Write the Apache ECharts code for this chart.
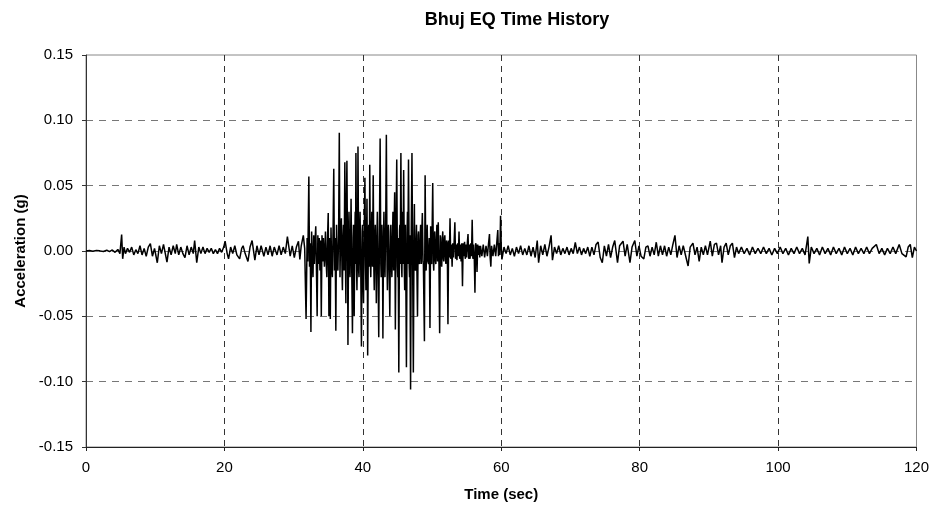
<!DOCTYPE html>
<html>
<head>
<meta charset="utf-8">
<script src="https://cdn.jsdelivr.net/npm/echarts@6/dist/echarts.min.js"></script>
<style>
  html, body { margin: 0; padding: 0; background: #fff; }
  #main { width: 932px; height: 511px; }
</style>
</head>
<body>
<div id="main"></div>
<script>
// time (sec), acceleration (g)
var quietStart = [[0,0],[0.5,0.0003],[1.0,-0.0002],[1.5,0.0004],[2.0,0.0001],[2.5,-0.0004],[3.0,0.0006],[3.4,-0.0005],[3.8,0.0008],[4.2,-0.001],[4.6,0.0012],[4.9,-0.002],[5.15,0.0126],[5.3,-0.006],[5.5,0.003]];

var preEvent = [[5.7,-0.002],[6.0,0.002],[6.3,-0.001],[6.6,0.003],[6.9,-0.003],[7.2,0.001],[7.5,-0.002],[7.8,0.004],[8.1,-0.003],[8.4,0.002],[8.7,-0.004],[9.0,0.003],[9.3,0.0057],[9.6,-0.004],[9.9,0.002],[10.3,-0.009],[10.6,0.004],[10.9,-0.002],[11.2,0.005],[11.7,-0.0085],[12.0,0.003],[12.3,-0.003],[12.6,0.004],[12.9,-0.002],[13.1,0.005],[13.4,-0.003],[13.7,0.003],[14.0,-0.002],[14.3,-0.005],[14.6,0.004],[14.9,-0.003],[15.2,0.003],[15.5,-0.002],[15.7,0.008],[16.0,-0.009],[16.3,0.003],[16.6,-0.002],[16.9,0.003],[17.2,-0.002],[17.5,0.002],[17.8,-0.001],[18.1,0.002],[18.4,-0.002],[18.7,0.001],[19.0,-0.002],[19.3,0.002],[19.6,-0.001],[19.9,0.003],[20.1,0.0075],[20.4,-0.002],[20.6,-0.006],[20.9,0.003],[21.2,-0.002],[21.5,0.004],[21.8,-0.003],[22.2,-0.006],[22.5,0.002],[22.7,0.004],[23.0,-0.002],[23.4,-0.008],[23.7,0.003],[24.0,0.008],[24.4,-0.007],[24.7,0.004],[25.0,-0.003],[25.3,0.004],[25.7,-0.004],[26.0,0.003],[26.3,-0.003],[26.6,0.004],[26.9,-0.004],[27.2,0.003],[27.6,-0.003],[27.9,0.004],[28.2,-0.003],[28.5,0.003],[28.8,-0.002],[29.1,0.011],[29.5,-0.004],[29.8,0.004],[30.1,-0.005],[30.4,0.003],[30.7,0.0075],[30.9,-0.0065],[31.1,0.004],[31.4,0.012]];

var strongMotion = [[31.6,0.002],[31.8,-0.052],[31.95,0.01],[32.05,-0.008],[32.2,0.057],[32.3,-0.012],[32.4,0.006],[32.5,-0.062],[32.6,0.015],[32.7,-0.006],[32.8,-0.02],[32.9,0.012],[33.0,-0.01],[33.1,0.008],[33.2,0.019],[33.3,-0.015],[33.4,-0.05],[33.5,0.012],[33.6,-0.01],[33.7,0.01],[33.8,-0.015],[33.9,0.008],[34.0,-0.05],[34.1,0.012],[34.2,-0.008],[34.3,0.01],[34.45,-0.012],[34.6,0.015],[34.7,-0.008],[34.8,-0.02],[34.9,0.01],[35.0,0.029],[35.1,-0.05],[35.2,0.01],[35.3,-0.052],[35.4,0.018],[35.5,-0.012],[35.6,-0.02],[35.7,0.015],[35.8,0.063],[35.9,-0.015],[36.0,0.01],[36.1,-0.061],[36.2,0.02],[36.3,-0.008],[36.4,-0.015],[36.5,0.012],[36.6,0.0905],[36.7,-0.02],[36.8,0.015],[36.9,0.025],[37.0,-0.018],[37.05,-0.03],[37.15,0.012],[37.2,0.02],[37.3,-0.015],[37.4,0.068],[37.5,-0.012],[37.55,-0.04],[37.6,0.02],[37.7,0.069],[37.8,-0.01],[37.85,-0.072],[37.95,0.015],[38.0,0.03],[38.1,-0.012],[38.15,-0.02],[38.25,0.015],[38.3,0.04],[38.4,-0.015],[38.5,-0.063],[38.6,0.01],[38.65,0.02],[38.7,-0.012],[38.75,-0.05],[38.85,0.015],[38.9,0.03],[38.95,-0.01],[39.0,0.075],[39.1,-0.015],[39.15,-0.03],[39.25,0.012],[39.3,0.08],[39.4,-0.015],[39.45,-0.02],[39.55,0.018],[39.6,0.03],[39.7,-0.012],[39.8,-0.073],[39.9,0.015],[39.95,0.02],[40.0,-0.015],[40.1,-0.04],[40.2,0.012],[40.3,0.056],[40.4,-0.012],[40.45,-0.03],[40.55,0.015],[40.6,0.04],[40.65,-0.01],[40.7,-0.08],[40.8,0.012],[40.85,0.02],[40.95,-0.012],[41.0,0.066],[41.1,-0.01],[41.15,-0.02],[41.25,0.015],[41.3,0.03],[41.4,-0.012],[41.5,0.058],[41.6,-0.015],[41.65,-0.03],[41.75,0.012],[41.8,0.02],[41.9,-0.012],[41.95,-0.04],[42.05,0.015],[42.1,0.03],[42.2,-0.012],[42.3,-0.066],[42.4,0.015],[42.5,0.086],[42.6,-0.01],[42.65,-0.02],[42.7,0.012],[42.75,0.02],[42.85,-0.012],[42.9,-0.067],[43.0,0.015],[43.05,0.03],[43.15,-0.01],[43.2,-0.02],[43.3,0.015],[43.4,0.089],[43.5,-0.012],[43.55,-0.03],[43.65,0.012],[43.7,0.02],[43.8,-0.012],[43.9,-0.05],[44.0,0.015],[44.05,0.02],[44.15,-0.012],[44.2,-0.02],[44.3,0.012],[44.35,0.03],[44.45,-0.015],[44.5,0.01],[44.6,0.045],[44.7,-0.06],[44.8,0.015],[44.9,0.07],[45.0,-0.012],[45.05,-0.02],[45.1,0.01],[45.2,-0.093],[45.3,0.015],[45.35,0.02],[45.4,-0.01],[45.5,0.075],[45.6,-0.012],[45.65,-0.02],[45.7,0.015],[45.75,0.03],[45.8,-0.01],[45.9,0.062],[46.0,-0.015],[46.05,-0.03],[46.1,0.012],[46.15,0.02],[46.2,-0.01],[46.3,-0.089],[46.4,0.015],[46.45,0.03],[46.5,-0.01],[46.6,0.07],[46.7,-0.012],[46.75,-0.02],[46.8,0.012],[46.9,-0.106],[47.0,0.015],[47.1,0.075],[47.2,-0.012],[47.3,-0.093],[47.4,0.012],[47.45,0.036],[47.5,-0.008],[47.6,-0.015],[47.7,0.01],[47.75,0.02],[47.8,-0.008],[47.9,-0.05],[48.0,0.012],[48.05,0.015],[48.1,-0.008],[48.2,-0.01],[48.3,0.012],[48.35,0.02],[48.45,-0.01],[48.5,0.01],[48.6,0.029],[48.7,-0.008],[48.75,-0.01],[48.9,-0.069],[49.0,0.058],[49.1,-0.008],[49.15,-0.015],[49.25,0.01],[49.3,0.02],[49.4,-0.008],[49.5,-0.01],[49.6,0.01],[49.7,-0.059],[49.8,0.019],[49.9,-0.008],[49.95,-0.01],[50.0,0.01],[50.1,0.052],[50.2,-0.01],[50.25,-0.015],[50.35,0.012],[50.4,0.015],[50.5,-0.008],[50.55,-0.01],[50.65,0.01],[50.7,0.02],[50.8,-0.008],[50.9,0.022],[51.0,-0.01],[51.1,-0.063],[51.2,0.012],[51.25,0.01],[51.35,-0.008],[51.4,-0.012],[51.5,0.01],[51.55,0.015],[51.65,-0.006],[51.7,-0.008],[51.8,0.01],[51.85,0.012],[51.95,-0.006],[52.0,-0.01],[52.1,0.008],[52.2,0.006],[52.3,-0.056],[52.4,0.008],[52.5,-0.005],[52.6,0.025],[52.7,-0.006],[52.8,0.005],[52.9,-0.012],[53.0,0.006],[53.1,-0.005],[53.2,0.008],[53.3,0.022],[53.4,-0.006],[53.5,0.005],[53.6,-0.007],[53.7,0.006],[53.8,-0.004],[53.9,0.015],[54.0,-0.006],[54.1,0.005],[54.2,-0.008],[54.3,0.006],[54.4,-0.027],[54.5,0.006],[54.6,-0.004],[54.7,0.007],[54.8,-0.006],[54.9,0.005],[55.0,-0.005],[55.1,0.006],[55.2,0.013],[55.3,-0.006],[55.4,0.005],[55.5,-0.006],[55.6,0.006],[55.7,-0.004],[55.8,0.024],[55.9,-0.006],[56.0,0.005],[56.1,-0.004],[56.2,-0.032],[56.3,0.006],[56.4,0.004],[56.5,-0.016],[56.6,0.005],[56.7,-0.003],[56.8,0.004],[56.9,-0.005],[57.0,0.004],[57.2,-0.004],[57.4,0.005],[57.6,-0.005],[57.8,0.004],[58.0,-0.004],[58.15,0.005],[58.3,0.013],[58.4,-0.005],[58.5,-0.012],[58.6,0.004],[58.8,-0.004],[59.0,0.005],[59.2,-0.004],[59.35,0.006],[59.5,0.016],[59.6,-0.004],[59.7,0.006],[59.8,-0.003],[59.9,0.027],[60.0,0.004]];

var coda = [[60.1,-0.0065],[60.4,0.003],[60.7,-0.002],[61.0,0.004],[61.3,-0.003],[61.6,0.002],[61.9,-0.004],[62.2,0.003],[62.5,-0.002],[62.8,0.004],[63.1,-0.003],[63.4,0.002],[63.7,-0.003],[64.0,0.004],[64.3,-0.004],[64.6,0.003],[64.9,-0.005],[65.2,0.008],[65.4,-0.009],[65.7,0.004],[66.0,-0.003],[66.3,0.005],[66.6,-0.004],[66.9,0.003],[67.2,0.012],[67.4,-0.007],[67.7,0.003],[68.0,-0.002],[68.3,0.004],[68.6,-0.003],[68.9,0.002],[69.2,-0.002],[69.5,0.003],[69.8,-0.003],[70.1,0.002],[70.4,-0.002],[70.7,0.0065],[71.0,-0.002],[71.3,0.003],[71.6,-0.003],[71.9,0.002],[72.2,-0.002],[72.5,0.003],[72.8,-0.004],[73.1,0.003],[73.4,-0.003],[73.7,0.005],[74.0,0.0068],[74.3,-0.005],[74.6,-0.009],[74.9,0.004],[75.2,-0.004],[75.5,0.005],[75.8,-0.005],[76.1,0.003],[76.4,0.008],[76.8,-0.009],[77.1,0.004],[77.6,0.0075],[77.9,-0.004],[78.2,0.005],[78.6,-0.009],[78.9,0.003],[79.3,0.008],[79.6,-0.004],[79.9,0.004],[80.2,-0.004],[80.6,-0.006],[80.9,0.003],[81.2,0.004],[81.5,-0.004],[81.8,0.003],[82.1,-0.003],[82.4,0.0067],[82.7,-0.004],[83.0,0.004],[83.3,-0.003],[83.6,0.004],[83.9,-0.004],[84.2,0.003],[84.5,-0.003],[84.8,0.005],[85.1,0.012],[85.4,-0.005],[85.7,0.004],[86.0,-0.003],[86.3,0.004],[86.7,-0.005],[87.0,-0.0115],[87.3,0.003],[87.7,0.006],[88.0,-0.003],[88.3,0.003],[88.6,-0.008],[88.9,0.003],[89.2,-0.003],[89.5,0.004],[89.8,-0.003],[90.2,0.0075],[90.5,-0.004],[90.8,0.005],[91.1,0.006],[91.4,-0.003],[91.7,0.004],[91.9,-0.009],[92.2,0.003],[92.5,0.006],[92.8,-0.003],[93.1,0.004],[93.4,0.006],[93.7,-0.005],[94.0,0.003],[94.3,-0.002],[94.7,0.003],[95.1,-0.002],[95.5,0.002],[95.9,-0.003],[96.3,0.003],[96.7,-0.002],[97.1,0.002],[97.5,-0.002],[97.9,0.003],[98.3,-0.002],[98.7,0.002],[99.1,-0.003],[99.5,0.002],[99.9,-0.002],[100.3,0.003],[100.7,-0.002],[101.1,0.002],[101.5,-0.003],[101.9,0.002],[102.3,-0.002],[102.7,0.003],[103.1,-0.002],[103.5,0.002],[103.9,-0.003],[104.3,0.011],[104.5,-0.0095],[104.8,0.003],[105.2,-0.002],[105.6,0.002],[106.0,-0.003],[106.4,0.003],[106.8,-0.002],[107.2,0.002],[107.6,-0.003],[108.0,0.003],[108.4,-0.002],[108.8,0.002],[109.2,-0.003],[109.6,0.003],[110.0,-0.002],[110.4,0.002],[110.8,-0.003],[111.2,0.003],[111.6,-0.002],[112.0,0.002],[112.4,-0.002],[112.8,0.003],[113.2,-0.002],[113.6,0.002],[114.2,0.005],[114.6,-0.002],[115.0,0.002],[115.4,-0.003],[115.8,0.002],[116.2,-0.002],[116.6,0.003],[117.0,-0.002],[117.5,0.005],[117.9,-0.002],[118.5,-0.0045],[118.8,0.003],[119.1,0.005],[119.4,-0.005],[119.7,0.003],[120.0,0.0]];

var timeTicks = { min: 0, max: 120, step: 20 };
var accelTicks = { min: -0.15, max: 0.15, step: 0.05 };

var quakeRecord = quietStart.concat(preEvent, strongMotion, coda);

var myChart = echarts.init(document.getElementById("main"));
myChart.setOption({
  animation: false,
  title: {
    text: "Bhuj EQ Time History",
    left: 512,
    textAlign: "center",
    top: 6,
    textStyle: { fontFamily: "Liberation Sans", fontSize: 18, fontWeight: "bold", color: "#000" }
  },
  grid: {
    left: 86, right: 15, top: 55, bottom: 64,
    show: true, borderColor: "#888", borderWidth: 1
  },
  xAxis: {
    type: "value",
    min: timeTicks.min, max: timeTicks.max, interval: timeTicks.step,
    name: "Time (sec)",
    nameLocation: "middle",
    nameGap: 40,
    nameTextStyle: { fontFamily: "Liberation Sans", fontSize: 15, fontWeight: "bold", color: "#000" },
    axisLine: { onZero: false, lineStyle: { color: "#222", width: 1 } },
    axisTick: { inside: false, length: 4, lineStyle: { color: "#222" } },
    axisLabel: { margin: 13, fontFamily: "Liberation Sans", fontSize: 15, color: "#000" },
    splitLine: {
      show: true, showMinLine: false, showMaxLine: false,
      lineStyle: { color: "#333", type: [6, 5], width: 1 }
    }
  },
  yAxis: {
    type: "value",
    min: accelTicks.min, max: accelTicks.max, interval: accelTicks.step,
    name: "Acceleration (g)",
    nameLocation: "middle",
    nameGap: 58,
    nameTextStyle: { fontFamily: "Liberation Sans", fontSize: 15, fontWeight: "bold", color: "#000" },
    axisLine: { show: true, onZero: false, lineStyle: { color: "#333", width: 1 } },
    axisTick: { show: true, inside: false, length: 4, lineStyle: { color: "#333" } },
    axisLabel: {
      margin: 13, fontFamily: "Liberation Sans", fontSize: 15, color: "#000",
      formatter: function (v) { return v.toFixed(2); }
    },
    splitLine: {
      show: true, showMinLine: false, showMaxLine: false,
      lineStyle: { color: "#777", type: [7, 6], width: 1 }
    }
  },
  series: [
    {
      type: "line",
      data: quakeRecord,
      showSymbol: false,
      symbol: "none",
      sampling: null,
      lineStyle: { color: "#000", width: 1.5 }
    }
  ]
});
</script>
</body>
</html>
